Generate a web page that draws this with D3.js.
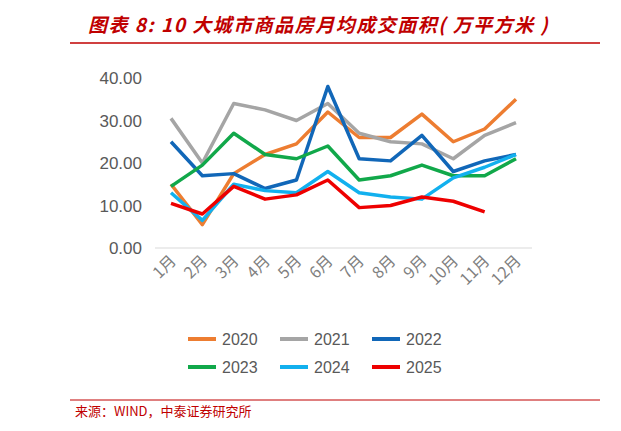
<!DOCTYPE html>
<html><head><meta charset="utf-8">
<script src="https://cdn.jsdelivr.net/npm/d3@7"></script>
<style>body{margin:0;background:#fff;font-family:"Liberation Sans",Arial,sans-serif}</style>
</head><body><div id="canvas"></div>
<script>
var months = ['1月','2月','3月','4月','5月','6月','7月','8月','9月','10月','11月','12月'];
var years = ['2020','2021','2022','2023','2024','2025'];
var colors = ['#ed7d31','#a5a5a5','#1167b8','#11a84a','#12b0ee','#ee0000'];
var v2020 = [15,5.5,17.5,22,24.5,32,26,26,31.5,25,28,35];
var v2021 = [30.5,20,34,32.5,30,34,27,25,24.5,21,26.5,29.5];
var v2022 = [25,17,17.5,14,16,38,21,20.5,26.5,18,20.5,22];
var v2023 = [14.5,19.5,27,22,21,24,16,17,19.5,17,17,21];
var v2024 = [13,6.5,15,13.5,13,18,13,12,11.5,16.5,19,22];
var v2025 = [10.5,8,14.5,11.5,12.5,16,9.5,10,12,11,8.5];
var yTicks = [0,10,20,30,40];
var series = [v2020,v2021,v2022,v2023,v2024,v2025];

var svg = d3.select('#canvas').append('svg').attr('width',621).attr('height',431);

svg.append('text').attr('x',88).attr('y',32)
  .attr('fill','#c00000').attr('font-size',19).attr('font-weight','bold').attr('font-style','italic')
  .attr('letter-spacing',1.5)
  .attr('font-family','"Noto Sans CJK SC",sans-serif')
  .text('图表 8:  10 大城市商品房月均成交面积( 万平方米 )');
svg.append('line').attr('x1',70).attr('x2',600).attr('y1',43).attr('y2',43)
  .attr('stroke','#c00000').attr('stroke-width',1.5);
svg.append('line').attr('x1',70).attr('x2',600).attr('y1',400).attr('y2',400)
  .attr('stroke','#c00000').attr('stroke-width',1);
svg.append('text').attr('x',75).attr('y',416).attr('font-size',13).attr('fill','#c00000')
  .attr('font-family','"Noto Sans CJK SC",sans-serif').text('来源：WIND，中泰证券研究所');

var x = d3.scalePoint().domain(months).range([171,516]);
var y = d3.scaleLinear().domain([0,40]).range([248,78]);

var ax = svg.append('g');
ax.selectAll('text.yt').data(yTicks).enter().append('text')
  .attr('x',142).attr('y',function(d){return y(d)+6;}).attr('text-anchor','end')
  .attr('font-size',17).attr('fill','#595959').text(function(d){return d.toFixed(2);});
ax.append('line').attr('x1',155).attr('x2',532).attr('y1',y(0)).attr('y2',y(0)).attr('stroke','#d9d9d9');
ax.selectAll('text.xt').data(months).enter().append('text')
  .attr('text-anchor','end').attr('font-size',16).attr('fill','#7f7f7f')
  .attr('font-family','"Noto Sans CJK SC",sans-serif')
  .attr('transform',function(d){return 'translate('+(x(d)+6)+','+(y(0)+14)+') rotate(-45)';})
  .text(function(d){return d;});

var line = d3.line().x(function(d,i){return x(months[i]);}).y(function(d){return y(d);});
series.forEach(function(s,k){
  svg.append('path').datum(s).attr('d',line).attr('fill','none')
    .attr('stroke',colors[k]).attr('stroke-width',3.5).attr('stroke-linejoin','round');
});

var leg = svg.append('g');
years.forEach(function(yr,i){
  var lx = 188 + (i%3)*92, ly = 339 + Math.floor(i/3)*28;
  leg.append('line').attr('x1',lx).attr('x2',lx+28).attr('y1',ly).attr('y2',ly)
    .attr('stroke',colors[i]).attr('stroke-width',4);
  leg.append('text').attr('x',lx+34).attr('y',ly+6).attr('font-size',16).attr('fill','#595959').text(yr);
});
</script></body></html>
